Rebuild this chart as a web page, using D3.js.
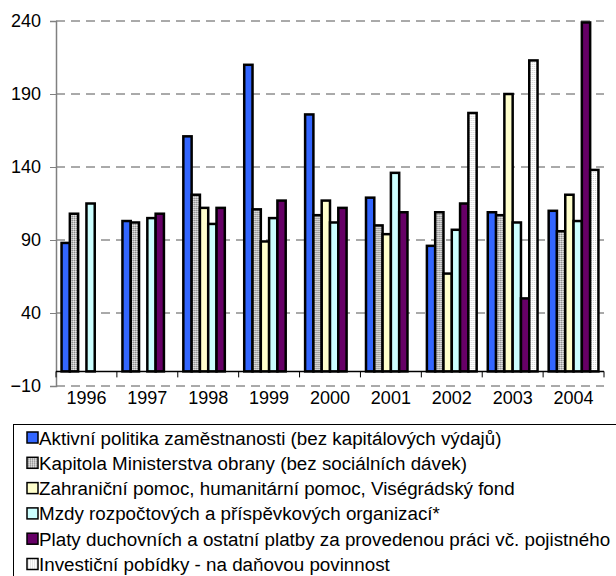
<!DOCTYPE html>
<html>
<head>
<meta charset="utf-8">
<script src="https://cdn.jsdelivr.net/npm/d3@7"></script>
<style>
  body { margin: 0; background: #fff; }
  svg { font-family: "Liberation Sans", Arial, sans-serif; }
</style>
</head>
<body>
<svg id="chart" width="616" height="576"></svg>
<script>
var years = ["1996", "1997", "1998", "1999", "2000", "2001", "2002", "2003", "2004"];
var seriesNames = [
  "Aktivní politika zaměstnanosti (bez kapitálových výdajů)",
  "Kapitola Ministerstva obrany (bez sociálních dávek)",
  "Zahraniční pomoc, humanitární pomoc, Viségrádský fond",
  "Mzdy rozpočtových a příspěvkových organizací*",
  "Platy duchovních a ostatní platby za provedenou práci vč. pojistného",
  "Investiční pobídky - na daňovou povinnost"
];
// null = no bar for that year
var aktivni   = [88, 103, 161, 210, 176, 119, 86, 109, 110];
var obrana    = [108, 102, 121, 111, 107, 100, 109, 107, 96];
var pomoc     = [null, null, 112, 89, 117, 94, 67, 190, 121];
var mzdy      = [115, 105, 101, 105, 102, 136, 97, 102, 103];
var platy     = [null, 108, 112, 117, 112, 109, 115, 50, 239];
var pobidky   = [null, null, null, null, null, null, 177, 213, 138];
var yTicks = [-10, 40, 90, 140, 190, 240];

var seriesValues = [aktivni, obrana, pomoc, mzdy, platy, pobidky];
var fills = ["#3366ff", "url(#pat-gray)", "#ffffcc", "#ccffff", "#660066", "url(#pat-white)"];

var svg = d3.select("#chart");
var defs = svg.append("defs");

// dotted fills used by Excel for the grey and white series
var p1 = defs.append("pattern").attr("id", "pat-gray")
  .attr("width", 2).attr("height", 2).attr("patternUnits", "userSpaceOnUse");
p1.append("rect").attr("width", 2).attr("height", 2).attr("fill", "#c0c0c0");
p1.append("rect").attr("width", 1).attr("height", 1).attr("fill", "#8c8c8c");
p1.append("rect").attr("x", 1).attr("y", 1).attr("width", 1).attr("height", 1).attr("fill", "#e6e6e6");

var p2 = defs.append("pattern").attr("id", "pat-white")
  .attr("width", 2).attr("height", 2).attr("patternUnits", "userSpaceOnUse");
p2.append("rect").attr("width", 2).attr("height", 2).attr("fill", "#ffffff");
p2.append("rect").attr("width", 1).attr("height", 1).attr("fill", "#cfcfcf");

var plotL = 56, plotR = 604, plotT = 21, plotB = 386;

var y = d3.scaleLinear().domain([-10, 240]).range([plotB, plotT]);
var x0 = d3.scaleBand().domain(years).range([plotL, plotR]).padding(0);
var x1 = d3.scaleBand().domain(d3.range(seriesNames.length))
  .range([0, x0.bandwidth()]).paddingInner(0).paddingOuter(0.67);

// horizontal dashed gridlines
svg.append("g").selectAll("line").data(yTicks).enter().append("line")
  .attr("x1", plotL).attr("x2", plotR)
  .attr("y1", function(d){ return y(d); }).attr("y2", function(d){ return y(d); })
  .attr("stroke", "#555").attr("stroke-width", 1)
  .attr("stroke-dasharray", "9,6");

// value axis
var yAxis = svg.append("g").attr("transform", "translate(" + plotL + ",0)")
  .call(d3.axisLeft(y).tickValues(yTicks).tickSize(6).tickPadding(9));
yAxis.select(".domain").attr("stroke", "#808080").attr("stroke-width", 1.5);
yAxis.selectAll(".tick line").attr("stroke", "#808080");
yAxis.selectAll("text").attr("font-size", 18).attr("fill", "#000")
  .attr("font-family", "Liberation Sans, Arial, sans-serif");

// bars
var groups = svg.append("g").selectAll("g").data(years).enter().append("g")
  .attr("transform", function(d){ return "translate(" + x0(d) + ",0)"; });

groups.selectAll("rect")
  .data(function(d, i){
    return seriesValues.map(function(vals, s){ return {s: s, v: vals[i]}; })
      .filter(function(e){ return e.v !== null; });
  })
  .enter().append("rect")
  .attr("x", function(d){ return x1(d.s); })
  .attr("width", x1.bandwidth())
  .attr("y", function(d){ return y(d.v); })
  .attr("height", function(d){ return y(0) - y(d.v); })
  .attr("fill", function(d){ return fills[d.s]; })
  .attr("stroke", "#000").attr("stroke-width", 2.5);

// category axis at zero
var xAxis = svg.append("g").attr("transform", "translate(0," + y(0) + ")");
xAxis.append("line").attr("x1", plotL).attr("x2", plotR)
  .attr("stroke", "#000").attr("stroke-width", 1.5);
xAxis.selectAll(".tk").data(d3.range(years.length + 1)).enter().append("line")
  .attr("x1", function(i){ return plotL + i * x0.step(); })
  .attr("x2", function(i){ return plotL + i * x0.step(); })
  .attr("y1", 0).attr("y2", 6)
  .attr("stroke", "#000").attr("stroke-width", 1);
xAxis.selectAll("text").data(years).enter().append("text")
  .attr("x", function(d){ return x0(d) + x0.bandwidth() / 2; })
  .attr("y", 33).attr("text-anchor", "middle")
  .attr("font-size", 18).text(function(d){ return d; });

// legend
var lg = svg.append("g");
lg.append("rect").attr("x", 13.5).attr("y", 424.5).attr("width", 620).attr("height", 170)
  .attr("fill", "none").attr("stroke", "#000").attr("stroke-width", 1);
var items = lg.selectAll("g.item").data(seriesNames).enter().append("g")
  .attr("transform", function(d, i){ return "translate(0," + (438 + i * 25.3) + ")"; });
items.append("rect").attr("x", 27).attr("y", -6).attr("width", 11).attr("height", 11)
  .attr("fill", function(d, i){ return fills[i]; })
  .attr("stroke", "#000").attr("stroke-width", 1.5);
items.append("text").attr("x", 39).attr("y", 6.5)
  .attr("font-size", 18.8).text(function(d){ return d; });
</script>
</body>
</html>
